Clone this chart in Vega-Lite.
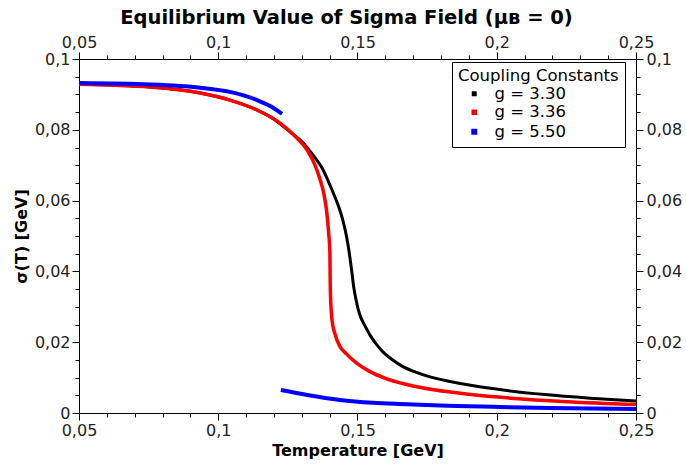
{
  "$schema": "https://vega.github.io/schema/vega-lite/v6.json",
  "width": 557,
  "height": 354,
  "autosize": {"type": "none"},
  "padding": {"left": 79, "top": 59, "right": 50, "bottom": 53},
  "background": "white",
  "title": {"text": "Equilibrium Value of Sigma Field (μʙ = 0)", "font": "DejaVu Sans", "fontSize": 19.5, "fontWeight": "bold", "color": "black", "offset": 6, "anchor": "middle", "dx": -11},
  "config": {
    "view": {"stroke": "black", "strokeWidth": 1},
    "axis": {"domainColor": "black", "tickColor": "black", "labelFont": "DejaVu Sans", "labelFontSize": 16, "labelColor": "#222", "titleFont": "DejaVu Sans", "titleFontSize": 16, "titleFontWeight": "bold", "titleColor": "black", "grid": false, "labelFlush": false, "labelOverlap": false},
    "legend": {"orient": "none", "legendX": 373, "legendY": 3, "titleFont": "DejaVu Sans", "titleFontSize": 16.5, "titleFontWeight": "normal", "titleColor": "black", "labelFont": "DejaVu Sans", "labelFontSize": 16.5, "labelColor": "black", "strokeColor": "black", "fillColor": "white", "padding": 6, "symbolType": "square", "symbolOffset": 8, "labelOffset": 12, "rowPadding": 1.5, "titlePadding": 1, "symbolSize": 4, "symbolStrokeWidth": 1}
  },
  "data": {"values": [
    {"g": "g = 3.30", "b": 1, "T": 0.05, "s": 0.0929},
    {"g": "g = 3.30", "b": 1, "T": 0.0755, "s": 0.0921},
    {"g": "g = 3.30", "b": 1, "T": 0.0935, "s": 0.0904},
    {"g": "g = 3.30", "b": 1, "T": 0.1042, "s": 0.0884},
    {"g": "g = 3.30", "b": 1, "T": 0.1139, "s": 0.0856},
    {"g": "g = 3.30", "b": 1, "T": 0.1204, "s": 0.0828},
    {"g": "g = 3.30", "b": 1, "T": 0.1258, "s": 0.0794},
    {"g": "g = 3.30", "b": 1, "T": 0.1301, "s": 0.0766},
    {"g": "g = 3.30", "b": 1, "T": 0.1340, "s": 0.0729},
    {"g": "g = 3.30", "b": 1, "T": 0.1373, "s": 0.0692},
    {"g": "g = 3.30", "b": 1, "T": 0.1401, "s": 0.0644},
    {"g": "g = 3.30", "b": 1, "T": 0.1419, "s": 0.0610},
    {"g": "g = 3.30", "b": 1, "T": 0.1434, "s": 0.0579},
    {"g": "g = 3.30", "b": 1, "T": 0.1444, "s": 0.0554},
    {"g": "g = 3.30", "b": 1, "T": 0.1455, "s": 0.0520},
    {"g": "g = 3.30", "b": 1, "T": 0.1466, "s": 0.0475},
    {"g": "g = 3.30", "b": 1, "T": 0.1473, "s": 0.0438},
    {"g": "g = 3.30", "b": 1, "T": 0.1480, "s": 0.0396},
    {"g": "g = 3.30", "b": 1, "T": 0.1487, "s": 0.0353},
    {"g": "g = 3.30", "b": 1, "T": 0.1495, "s": 0.0319},
    {"g": "g = 3.30", "b": 1, "T": 0.1502, "s": 0.0294},
    {"g": "g = 3.30", "b": 1, "T": 0.1513, "s": 0.0268},
    {"g": "g = 3.30", "b": 1, "T": 0.1527, "s": 0.0246},
    {"g": "g = 3.30", "b": 1, "T": 0.1545, "s": 0.0220},
    {"g": "g = 3.30", "b": 1, "T": 0.1566, "s": 0.0196},
    {"g": "g = 3.30", "b": 1, "T": 0.1592, "s": 0.0172},
    {"g": "g = 3.30", "b": 1, "T": 0.1624, "s": 0.0151},
    {"g": "g = 3.30", "b": 1, "T": 0.1663, "s": 0.0131},
    {"g": "g = 3.30", "b": 1, "T": 0.1707, "s": 0.0116},
    {"g": "g = 3.30", "b": 1, "T": 0.1760, "s": 0.0102},
    {"g": "g = 3.30", "b": 1, "T": 0.1832, "s": 0.0089},
    {"g": "g = 3.30", "b": 1, "T": 0.1922, "s": 0.0076},
    {"g": "g = 3.30", "b": 1, "T": 0.2030, "s": 0.0064},
    {"g": "g = 3.30", "b": 1, "T": 0.2173, "s": 0.0052},
    {"g": "g = 3.30", "b": 1, "T": 0.2335, "s": 0.0042},
    {"g": "g = 3.30", "b": 1, "T": 0.2500, "s": 0.0034},
    {"g": "g = 3.36", "b": 1, "T": 0.05, "s": 0.0929},
    {"g": "g = 3.36", "b": 1, "T": 0.0755, "s": 0.0921},
    {"g": "g = 3.36", "b": 1, "T": 0.0935, "s": 0.0904},
    {"g": "g = 3.36", "b": 1, "T": 0.1042, "s": 0.0884},
    {"g": "g = 3.36", "b": 1, "T": 0.1139, "s": 0.0856},
    {"g": "g = 3.36", "b": 1, "T": 0.1222, "s": 0.0819},
    {"g": "g = 3.36", "b": 1, "T": 0.1276, "s": 0.0782},
    {"g": "g = 3.36", "b": 1, "T": 0.1319, "s": 0.0743},
    {"g": "g = 3.36", "b": 1, "T": 0.1347, "s": 0.0701},
    {"g": "g = 3.36", "b": 1, "T": 0.1365, "s": 0.0661},
    {"g": "g = 3.36", "b": 1, "T": 0.1380, "s": 0.0616},
    {"g": "g = 3.36", "b": 1, "T": 0.1390, "s": 0.0565},
    {"g": "g = 3.36", "b": 1, "T": 0.1397, "s": 0.0503},
    {"g": "g = 3.36", "b": 1, "T": 0.14010, "s": 0.0452},
    {"g": "g = 3.36", "b": 1, "T": 0.14017, "s": 0.0390},
    {"g": "g = 3.36", "b": 1, "T": 0.14030, "s": 0.0333},
    {"g": "g = 3.36", "b": 1, "T": 0.14056, "s": 0.0291},
    {"g": "g = 3.36", "b": 1, "T": 0.14084, "s": 0.0263},
    {"g": "g = 3.36", "b": 1, "T": 0.14192, "s": 0.0223},
    {"g": "g = 3.36", "b": 1, "T": 0.1437, "s": 0.0188},
    {"g": "g = 3.36", "b": 1, "T": 0.1460, "s": 0.0167},
    {"g": "g = 3.36", "b": 1, "T": 0.1497, "s": 0.0141},
    {"g": "g = 3.36", "b": 1, "T": 0.1540, "s": 0.0119},
    {"g": "g = 3.36", "b": 1, "T": 0.1600, "s": 0.0098},
    {"g": "g = 3.36", "b": 1, "T": 0.1680, "s": 0.0080},
    {"g": "g = 3.36", "b": 1, "T": 0.1780, "s": 0.0065},
    {"g": "g = 3.36", "b": 1, "T": 0.1900, "s": 0.0053},
    {"g": "g = 3.36", "b": 1, "T": 0.2050, "s": 0.0042},
    {"g": "g = 3.36", "b": 1, "T": 0.2250, "s": 0.0032},
    {"g": "g = 3.36", "b": 1, "T": 0.2500, "s": 0.0024},
    {"g": "g = 5.50", "b": 1, "T": 0.05, "s": 0.0932},
    {"g": "g = 5.50", "b": 1, "T": 0.0755, "s": 0.0928},
    {"g": "g = 5.50", "b": 1, "T": 0.0935, "s": 0.0919},
    {"g": "g = 5.50", "b": 1, "T": 0.1042, "s": 0.0907},
    {"g": "g = 5.50", "b": 1, "T": 0.1139, "s": 0.0884},
    {"g": "g = 5.50", "b": 1, "T": 0.1186, "s": 0.0867},
    {"g": "g = 5.50", "b": 1, "T": 0.1229, "s": 0.0845},
    {"g": "g = 5.50", "b": 2, "T": 0.1225, "s": 0.0065},
    {"g": "g = 5.50", "b": 2, "T": 0.1319, "s": 0.0051},
    {"g": "g = 5.50", "b": 2, "T": 0.1437, "s": 0.0037},
    {"g": "g = 5.50", "b": 2, "T": 0.1556, "s": 0.0029},
    {"g": "g = 5.50", "b": 2, "T": 0.1678, "s": 0.0025},
    {"g": "g = 5.50", "b": 2, "T": 0.1796, "s": 0.0021},
    {"g": "g = 5.50", "b": 2, "T": 0.2012, "s": 0.0017},
    {"g": "g = 5.50", "b": 2, "T": 0.2191, "s": 0.0014},
    {"g": "g = 5.50", "b": 2, "T": 0.2500, "s": 0.0011}
  ]},
  "layer": [
    {
      "mark": {"type": "line", "interpolate": "monotone", "strokeCap": "butt"},
      "encoding": {
        "x": {"field": "T", "type": "quantitative", "scale": {"domain": [0.05, 0.25], "nice": false, "zero": false},
          "axis": {"orient": "bottom", "title": "Temperature [GeV]", "titlePadding": 4, "labelPadding": 2,
            "values": [0.05,0.06,0.07,0.08,0.09,0.1,0.11,0.12,0.13,0.14,0.15,0.16,0.17,0.18,0.19,0.2,0.21,0.22,0.23,0.24,0.25],
            "labelExpr": "abs(datum.value*20-round(datum.value*20))<0.001 ? replace(format(datum.value,'~g'),'.',',') : ''",
            "tickSize": {"condition": {"test": "abs(datum.value*20-round(datum.value*20))<0.001", "value": 7}, "value": 4}}},
        "y": {"field": "s", "type": "quantitative", "scale": {"domain": [0, 0.1], "nice": false, "zero": false},
          "axis": {"orient": "left", "title": "σ(T) [GeV]", "titlePadding": 5, "labelPadding": 2,
            "values": [0,0.005,0.01,0.015,0.02,0.025,0.03,0.035,0.04,0.045,0.05,0.055,0.06,0.065,0.07,0.075,0.08,0.085,0.09,0.095,0.1],
            "labelExpr": "abs(datum.value*50-round(datum.value*50))<0.001 ? replace(format(datum.value,'~g'),'.',',') : ''",
            "tickSize": {"condition": {"test": "abs(datum.value*50-round(datum.value*50))<0.001", "value": 7}, "value": 4}}},
        "color": {"field": "g", "type": "nominal", "scale": {"domain": ["g = 3.30", "g = 3.36", "g = 5.50"], "range": ["#000000", "#ff0000", "#0000ff"]},
          "legend": {"title": "Coupling Constants"}},
        "strokeWidth": {"field": "g", "type": "nominal", "scale": {"domain": ["g = 3.30", "g = 3.36", "g = 5.50"], "range": [3, 4, 3]}, "legend": null},
        "detail": {"field": "b", "type": "nominal"}
      }
    },
    {
      "mark": {"type": "line", "opacity": 0},
      "encoding": {
        "x": {"field": "T", "type": "quantitative", "scale": {"domain": [0.05, 0.25], "nice": false, "zero": false},
          "axis": {"orient": "top", "title": null, "labelPadding": 2,
            "values": [0.05,0.06,0.07,0.08,0.09,0.1,0.11,0.12,0.13,0.14,0.15,0.16,0.17,0.18,0.19,0.2,0.21,0.22,0.23,0.24,0.25],
            "labelExpr": "abs(datum.value*20-round(datum.value*20))<0.001 ? replace(format(datum.value,'~g'),'.',',') : ''",
            "tickSize": {"condition": {"test": "abs(datum.value*20-round(datum.value*20))<0.001", "value": 7}, "value": 4}}},
        "y": {"field": "s", "type": "quantitative", "scale": {"domain": [0, 0.1], "nice": false, "zero": false},
          "axis": {"orient": "right", "title": null, "labelPadding": 3,
            "values": [0,0.005,0.01,0.015,0.02,0.025,0.03,0.035,0.04,0.045,0.05,0.055,0.06,0.065,0.07,0.075,0.08,0.085,0.09,0.095,0.1],
            "labelExpr": "abs(datum.value*50-round(datum.value*50))<0.001 ? replace(format(datum.value,'~g'),'.',',') : ''",
            "tickSize": {"condition": {"test": "abs(datum.value*50-round(datum.value*50))<0.001", "value": 7}, "value": 4}}}
      }
    }
  ],
  "resolve": {"axis": {"x": "independent", "y": "independent"}}
}
